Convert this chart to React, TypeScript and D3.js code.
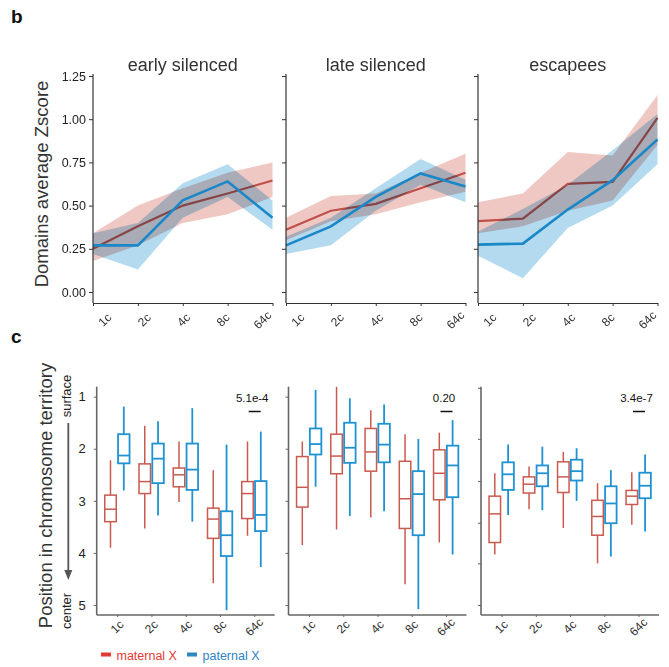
// Zscore lines (b) and chromosome-territory boxplots (c) with D3
import React, { useEffect, useRef } from 'react';
import * as d3 from 'd3';

const stages = ['1c', '2c', '4c', '8c', '64c'];
const groupTitles = ['early silenced', 'late silenced', 'escapees'];
const zTicks = [0, 0.25, 0.5, 0.75, 1.0, 1.25];
const posTicks = [1, 2, 3, 4, 5];
const escapeeTicks = [0.83, 1.81, 2.62, 3.42, 4.2, 5.0];
const pValues = ['5.1e-4', '0.20', '3.4e-7'];
const legendLabels = ['maternal X', 'paternal X'];

// panel b: mean and band (lo / hi) per stage
const earlyMat = [0.25, 0.38, 0.5, 0.57, 0.645];
const earlyMatLo = [0.18, 0.27, 0.4, 0.45, 0.55];
const earlyMatHi = [0.34, 0.5, 0.6, 0.69, 0.75];
const earlyPat = [0.27, 0.27, 0.53, 0.64, 0.43];
const earlyPatLo = [0.22, 0.13, 0.43, 0.55, 0.36];
const earlyPatHi = [0.34, 0.4, 0.63, 0.74, 0.53];

const lateMat = [0.36, 0.47, 0.51, 0.6, 0.69];
const lateMatLo = [0.3, 0.41, 0.45, 0.52, 0.58];
const lateMatHi = [0.43, 0.555, 0.57, 0.69, 0.8];
const latePat = [0.27, 0.38, 0.55, 0.686, 0.61];
const latePatLo = [0.22, 0.27, 0.47, 0.62, 0.52];
const latePatHi = [0.32, 0.43, 0.6, 0.77, 0.65];

const escMat = [0.41, 0.425, 0.626, 0.637, 1.007];
const escMatLo = [0.34, 0.38, 0.47, 0.53, 0.85];
const escMatHi = [0.52, 0.57, 0.81, 0.79, 1.14];
const escPat = [0.274, 0.28, 0.477, 0.647, 0.883];
const escPatLo = [0.21, 0.08, 0.37, 0.5, 0.74];
const escPatHi = [0.35, 0.48, 0.62, 0.82, 1.03];

// panel c: [whisker low, q1, median, q3, whisker high] per stage
const earlyMatBox = [
  [2.22, 2.89, 3.16, 3.4, 3.9],
  [1.56, 2.29, 2.63, 2.86, 3.53],
  [1.86, 2.37, 2.5, 2.73, 3.02],
  [2.41, 3.14, 3.35, 3.72, 4.58],
  [1.86, 2.63, 2.86, 3.34, 3.67],
];
const earlyPatBox = [
  [1.19, 1.72, 2.13, 2.28, 2.8],
  [1.47, 1.9, 2.19, 2.66, 3.28],
  [1.22, 1.9, 2.4, 2.79, 3.4],
  [1.92, 3.2, 3.66, 4.06, 5.1],
  [1.67, 2.62, 3.27, 3.58, 4.27],
];
const lateMatBox = [
  [1.86, 2.15, 2.74, 3.12, 3.85],
  [0.81, 1.72, 2.14, 2.48, 3.55],
  [1.26, 1.61, 2.06, 2.43, 3.32],
  [1.72, 2.24, 2.96, 3.53, 4.6],
  [1.69, 2.02, 2.47, 2.98, 3.8],
];
const latePatBox = [
  [0.87, 1.61, 1.91, 2.11, 2.73],
  [1.03, 1.5, 1.98, 2.27, 3.29],
  [1.15, 1.52, 1.92, 2.26, 3.2],
  [1.81, 2.43, 2.87, 3.66, 5.08],
  [1.45, 1.94, 2.32, 2.93, 4.03],
];
const escMatBox = [
  [2.47, 2.91, 3.25, 3.8, 4.03],
  [2.34, 2.54, 2.68, 2.85, 3.16],
  [2.06, 2.25, 2.54, 2.84, 3.52],
  [2.66, 2.99, 3.3, 3.66, 4.2],
  [2.45, 2.8, 2.91, 3.07, 3.46],
];
const escPatBox = [
  [1.92, 2.26, 2.49, 2.79, 3.27],
  [1.96, 2.32, 2.47, 2.72, 3.18],
  [1.99, 2.21, 2.43, 2.61, 3.0],
  [2.41, 2.72, 3.05, 3.43, 4.07],
  [2.11, 2.46, 2.71, 2.95, 3.59],
];

const FONT = '"Liberation Sans", Arial, Helvetica, sans-serif';
const RED_LINE = '#c0504b';
const BLUE_LINE = '#1a87c8';
const RED_BOX = '#c95a50';
const BLUE_BOX = '#1f92d3';

const App = () => {
  const svgRef = useRef<SVGSVGElement>(null);

  useEffect(() => {
    if (!svgRef.current) return;
    const svg = d3.select(svgRef.current);
    svg.selectAll('*').remove();
    svg.attr('font-family', FONT);

    // ---------- panel b ----------
    const bY = d3.scaleLinear().domain([0, 1.25]).range([292, 76]);
    const bX0 = [93, 286, 478];
    const bW = 179.5;
    const bData = [
      [earlyMat, earlyMatLo, earlyMatHi, earlyPat, earlyPatLo, earlyPatHi],
      [lateMat, lateMatLo, lateMatHi, latePat, latePatLo, latePatHi],
      [escMat, escMatLo, escMatHi, escPat, escPatLo, escPatHi],
    ];

    svg.append('text').text('b').attr('x', 11).attr('y', 23)
      .attr('font-size', 19).attr('font-weight', 'bold').attr('fill', '#111');

    svg.append('text').text('Domains average Zscore')
      .attr('transform', 'translate(48,184) rotate(-90)')
      .attr('text-anchor', 'middle').attr('font-size', 18.5).attr('fill', '#333');

    bX0.forEach((x0, p) => {
      const x = d3.scalePoint<string>().domain(stages).range([x0, x0 + bW]);
      const lx = d3.scalePoint<string>().domain(stages).range([x0 + 12, x0 + 169.5]);
      const [mat, matLo, matHi, pat, patLo, patHi] = bData[p];
      const g = svg.append('g').style('isolation', 'isolate');

      const band = (lo: number[], hi: number[]) =>
        d3.area<string>().x(d => x(d)!).y0((d, i) => bY(lo[i])).y1((d, i) => bY(hi[i]))(stages);
      const line = (v: number[]) =>
        d3.line<string>().x(d => x(d)!).y((d, i) => bY(v[i]))(stages);

      g.append('path').attr('d', band(matLo, matHi)).attr('fill', '#d4695d').attr('fill-opacity', 0.37);
      g.append('path').attr('d', line(mat)).attr('fill', 'none').attr('stroke', RED_LINE).attr('stroke-width', 2.2);
      g.append('path').attr('d', band(patLo, patHi)).attr('fill', '#4aa6da').attr('fill-opacity', 0.42)
        .style('mix-blend-mode', 'multiply');
      g.append('path').attr('d', line(pat)).attr('fill', 'none').attr('stroke', BLUE_LINE).attr('stroke-width', 2.6);

      g.append('text').text(groupTitles[p]).attr('x', x0 + bW / 2).attr('y', 71)
        .attr('text-anchor', 'middle').attr('font-size', 18).attr('fill', '#333');

      const ya = g.append('g').attr('transform', `translate(${x0},0)`)
        .call(d3.axisLeft(bY).tickValues(zTicks).tickSize(4).tickSizeOuter(0).tickPadding(3)
          .tickFormat(p === 0 ? d3.format('.2f') : () => ''))
        .attr('font-family', FONT).attr('font-size', 12.5);
      ya.select('.domain').remove();
      ya.selectAll('line').attr('stroke', '#333');
      ya.selectAll('text').attr('fill', '#222');
      g.append('line').attr('x1', x0).attr('x2', x0).attr('y1', 74).attr('y2', 303)
        .attr('stroke', '#333').attr('stroke-width', 1.2);

      const xa = g.append('g').attr('transform', 'translate(0,303)')
        .call(d3.axisBottom(x).tickSize(3).tickSizeOuter(0).tickFormat(() => ''));
      xa.select('.domain').attr('stroke', '#333').attr('stroke-width', 1.2);
      xa.selectAll('line').attr('stroke', '#333');

      g.selectAll('.blab').data(stages).enter().append('text')
        .attr('transform', d => `translate(${lx(d)},320) rotate(-45)`)
        .attr('text-anchor', 'middle').attr('dominant-baseline', 'central')
        .attr('font-size', 12).attr('fill', '#333').text(d => d);
    });

    // ---------- panel c ----------
    const cY = d3.scaleLinear().domain([1, 5]).range([396.7, 605]);
    const cX0 = [96.7, 288.5, 481];
    const cW = 178;
    const cData = [
      [earlyMatBox, earlyPatBox],
      [lateMatBox, latePatBox],
      [escMatBox, escPatBox],
    ];

    svg.append('text').text('c').attr('x', 11).attr('y', 343)
      .attr('font-size', 19).attr('font-weight', 'bold').attr('fill', '#111');

    svg.append('text').text('Position in chromosome territory')
      .attr('transform', 'translate(52,495.5) rotate(-90)')
      .attr('text-anchor', 'middle').attr('font-size', 18.5).attr('fill', '#333');
    svg.append('text').text('surface')
      .attr('transform', 'translate(71,396) rotate(-90)')
      .attr('text-anchor', 'middle').attr('font-size', 13).attr('fill', '#222');
    svg.append('text').text('center')
      .attr('transform', 'translate(71,611) rotate(-90)')
      .attr('text-anchor', 'middle').attr('font-size', 13).attr('fill', '#222');
    svg.append('line').attr('x1', 68.3).attr('x2', 68.3).attr('y1', 423).attr('y2', 572)
      .attr('stroke', '#555').attr('stroke-width', 1.8);
    svg.append('path').attr('d', 'M64.3,570 L72.3,570 L68.3,580 Z').attr('fill', '#555');

    cX0.forEach((x0, p) => {
      const x = d3.scalePoint<string>().domain(stages).range([x0 + 20.5, x0 + 157.5]);
      const g = svg.append('g');
      const [matBox, patBox] = cData[p];

      const ya = g.append('g').attr('transform', `translate(${x0},0)`)
        .call(d3.axisLeft(cY).tickValues(p === 2 ? escapeeTicks : posTicks).tickSize(3).tickSizeOuter(0)
          .tickPadding(8).tickFormat(p === 0 ? d3.format('d') : () => ''))
        .attr('font-family', FONT).attr('font-size', 13);
      ya.select('.domain').remove();
      ya.selectAll('line').attr('stroke', '#666');
      ya.selectAll('text').attr('fill', '#222');
      g.append('line').attr('x1', x0).attr('x2', x0).attr('y1', 386.7).attr('y2', 615)
        .attr('stroke', '#666').attr('stroke-width', 1.6);
      g.append('line').attr('x1', x0).attr('x2', x0 + cW).attr('y1', 615).attr('y2', 615)
        .attr('stroke', '#666').attr('stroke-width', 1.6);
      g.append('g').attr('transform', 'translate(0,615)')
        .call(d3.axisBottom(x).tickSize(2).tickSizeOuter(0).tickFormat(() => ''))
        .call(a => a.select('.domain').remove())
        .selectAll('line').attr('stroke', '#666');

      g.selectAll('.clab').data(stages).enter().append('text')
        .attr('transform', d => `translate(${x(d)},627) rotate(-45)`)
        .attr('text-anchor', 'middle').attr('dominant-baseline', 'central')
        .attr('font-size', 12).attr('fill', '#333').text(d => d);

      const series = [
        { boxes: matBox, dx: -6.7, color: RED_BOX, sw: 1.5 },
        { boxes: patBox, dx: 6.6, color: BLUE_BOX, sw: 1.8 },
      ];
      const bw = 11.5;
      series.forEach(s => {
        stages.forEach((st, i) => {
          const [lo, q1, med, q3, hi] = s.boxes[i];
          const cx = x(st)! + s.dx;
          const bg = g.append('g').attr('stroke', s.color).attr('stroke-width', s.sw).attr('fill', 'none');
          bg.append('line').attr('x1', cx).attr('x2', cx).attr('y1', cY(lo)).attr('y2', cY(q1));
          bg.append('line').attr('x1', cx).attr('x2', cx).attr('y1', cY(q3)).attr('y2', cY(hi));
          bg.append('rect').attr('x', cx - bw / 2).attr('width', bw)
            .attr('y', cY(q1)).attr('height', cY(q3) - cY(q1));
          bg.append('line').attr('x1', cx - bw / 2).attr('x2', cx + bw / 2)
            .attr('y1', cY(med)).attr('y2', cY(med));
        });
      });

      const tx = x('64c')!;
      g.append('text').text(pValues[p]).attr('x', tx - 2).attr('y', 401.5)
        .attr('text-anchor', 'middle').attr('font-size', 11.5).attr('fill', '#111');
      g.append('line').attr('x1', tx - 5.5).attr('x2', tx + 6.5).attr('y1', 411.5).attr('y2', 411.5)
        .attr('stroke', '#111').attr('stroke-width', 1.5);
    });

    // legend
    const legend = svg.append('g');
    const legendColors = ['#e33a34', '#2f84c4'];
    const legendX = [101, 187];
    legendLabels.forEach((lab, i) => {
      legend.append('rect').attr('x', legendX[i]).attr('y', 652.5).attr('width', 10).attr('height', 4)
        .attr('fill', legendColors[i]);
      legend.append('text').text(lab).attr('x', legendX[i] + 15.5).attr('y', 660)
        .attr('font-size', 12.5).attr('fill', legendColors[i]);
    });
  }, []);

  return (
    <svg
      ref={svgRef}
      width={669}
      height={667}
      style={{ position: 'absolute', left: 0, top: 0, background: '#fff' }}
    />
  );
};

export default App;
